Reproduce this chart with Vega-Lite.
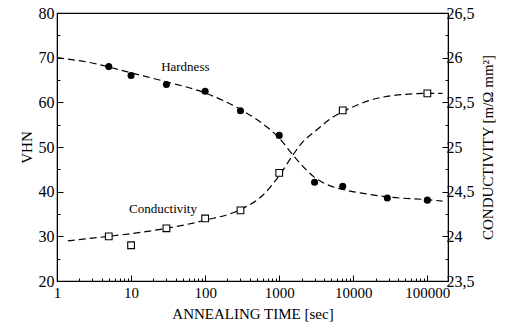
{
  "$schema": "https://vega.github.io/schema/vega-lite/v6.json",
  "width": 391,
  "height": 268,
  "autosize": {"type": "none"},
  "padding": {"left": 57, "top": 13, "right": 62, "bottom": 51},
  "background": "white",
  "config": {
    "view": {"stroke": "black", "strokeWidth": 1.2},
    "font": "Liberation Serif",
    "axis": {
      "domainColor": "black",
      "tickColor": "black",
      "labelColor": "black",
      "titleColor": "black",
      "grid": false,
      "titleFontWeight": "normal"
    }
  },
  "datasets": {
    "hardness": [
      {"t": 5, "v": 68.0},
      {"t": 10, "v": 66.0},
      {"t": 30, "v": 64.0},
      {"t": 100, "v": 62.5},
      {"t": 300, "v": 58.1},
      {"t": 1000, "v": 52.6},
      {"t": 3000, "v": 42.1},
      {"t": 7200, "v": 41.2},
      {"t": 28800, "v": 38.6},
      {"t": 100000, "v": 38.1}
    ],
    "hardnessFit": [
      {"t": 1, "v": 70.0},
      {"t": 3, "v": 68.8},
      {"t": 10, "v": 66.6},
      {"t": 30, "v": 64.6},
      {"t": 100, "v": 62.1},
      {"t": 300, "v": 58.4},
      {"t": 600, "v": 55.2},
      {"t": 1000, "v": 52.0},
      {"t": 1500, "v": 48.4},
      {"t": 1900, "v": 46.4},
      {"t": 3000, "v": 43.2},
      {"t": 4900, "v": 41.3},
      {"t": 7200, "v": 40.5},
      {"t": 15000, "v": 39.5},
      {"t": 30000, "v": 38.8},
      {"t": 100000, "v": 38.2},
      {"t": 160000, "v": 37.9}
    ],
    "conductivity": [
      {"t": 5, "c": 24.00},
      {"t": 10, "c": 23.90},
      {"t": 30, "c": 24.09},
      {"t": 100, "c": 24.20},
      {"t": 300, "c": 24.29},
      {"t": 1000, "c": 24.71},
      {"t": 7200, "c": 25.41},
      {"t": 100000, "c": 25.60}
    ],
    "conductivityFit": [
      {"t": 1.4, "c": 23.95},
      {"t": 3, "c": 23.98},
      {"t": 5, "c": 24.00},
      {"t": 10, "c": 24.03},
      {"t": 30, "c": 24.09},
      {"t": 100, "c": 24.18},
      {"t": 300, "c": 24.30},
      {"t": 600, "c": 24.46},
      {"t": 1000, "c": 24.68},
      {"t": 1560, "c": 24.92},
      {"t": 2000, "c": 25.04},
      {"t": 3200, "c": 25.19},
      {"t": 5000, "c": 25.32},
      {"t": 10000, "c": 25.45},
      {"t": 25600, "c": 25.56},
      {"t": 100000, "c": 25.60},
      {"t": 160000, "c": 25.60}
    ],
    "labels": [
      {"t": 54, "v": 68.0, "text": "Hardness"},
      {"t": 27, "v": 36.1, "text": "Conductivity"}
    ]
  },
  "encoding": {
    "x": {
      "field": "t",
      "type": "quantitative",
      "scale": {"type": "log", "domain": [1, 190000], "nice": false},
      "axis": {
        "title": "ANNEALING TIME [sec]",
        "values": [1,2,3,4,5,6,7,8,9,10,20,30,40,50,60,70,80,90,100,200,300,400,500,600,700,800,900,1000,2000,3000,4000,5000,6000,7000,8000,9000,10000,20000,30000,40000,50000,60000,70000,80000,90000,100000],
        "labelExpr": "indexof([1,10,100,1000,10000,100000], datum.value) >= 0 ? format(datum.value, 'd') : ''",
        "tickSize": {"condition": {"test": "indexof([1,10,100,1000,10000,100000], datum.value) >= 0", "value": -6}, "value": -3},
        "labelFont": "Liberation Serif",
        "titleFont": "Liberation Serif",
        "labelFontSize": 15,
        "titleFontSize": 15,
        "labelPadding": 10,
        "labelFlush": false,
        "labelOverlap": false,
        "titlePadding": 3
      }
    }
  },
  "layer": [
    {
      "encoding": {
        "y": {
          "field": "v",
          "type": "quantitative",
          "scale": {"domain": [20, 80], "nice": false, "zero": false},
          "axis": {
            "title": "VHN",
            "values": [20,25,30,35,40,45,50,55,60,65,70,75,80],
            "labelExpr": "datum.value % 10 == 0 ? datum.value : ''",
            "tickSize": {"condition": {"test": "datum.value % 10 == 0", "value": -6}, "value": -3},
            "labelFont": "Liberation Serif",
            "titleFont": "Liberation Serif",
            "labelFontSize": 16,
            "titleFontSize": 15,
            "labelPadding": 9,
            "labelFlush": false,
            "labelOverlap": false,
            "titlePadding": 4
          }
        }
      },
      "layer": [
        {
          "data": {"name": "hardnessFit"},
          "mark": {"type": "line", "color": "black", "strokeWidth": 1.2, "strokeDash": [7, 4], "interpolate": "monotone"}
        },
        {
          "data": {"name": "hardness"},
          "mark": {"type": "point", "shape": "circle", "filled": true, "color": "black", "size": 50, "opacity": 1}
        },
        {
          "data": {"name": "labels"},
          "mark": {"type": "text", "font": "Liberation Serif", "fontSize": 13, "color": "black"},
          "encoding": {"text": {"field": "text"}}
        }
      ]
    },
    {
      "encoding": {
        "y": {
          "field": "c",
          "type": "quantitative",
          "scale": {"domain": [23.5, 26.5], "nice": false, "zero": false},
          "axis": {
            "orient": "right",
            "title": "CONDUCTIVITY [m/Ω  mm²]",
            "titleAngle": 270,
            "titleBaseline": "top",
            "values": [23.5,23.75,24,24.25,24.5,24.75,25,25.25,25.5,25.75,26,26.25,26.5],
            "labelExpr": "datum.value % 0.5 == 0 ? replace('' + datum.value, '.', ',') : ''",
            "tickSize": {"condition": {"test": "datum.value % 0.5 == 0", "value": -6}, "value": -3},
            "labelFont": "Liberation Serif",
            "titleFont": "Liberation Serif",
            "labelFontSize": 16,
            "titleFontSize": 15,
            "labelPadding": 4,
            "labelFlush": false,
            "labelOverlap": false,
            "titlePadding": 6
          }
        }
      },
      "layer": [
        {
          "data": {"name": "conductivityFit"},
          "mark": {"type": "line", "color": "black", "strokeWidth": 1.2, "strokeDash": [7, 4], "interpolate": "monotone"}
        },
        {
          "data": {"name": "conductivity"},
          "mark": {"type": "point", "shape": "square", "filled": false, "color": "black", "fill": "white", "size": 45, "strokeWidth": 1.1, "opacity": 1}
        }
      ]
    }
  ],
  "resolve": {"scale": {"y": "independent"}}
}
